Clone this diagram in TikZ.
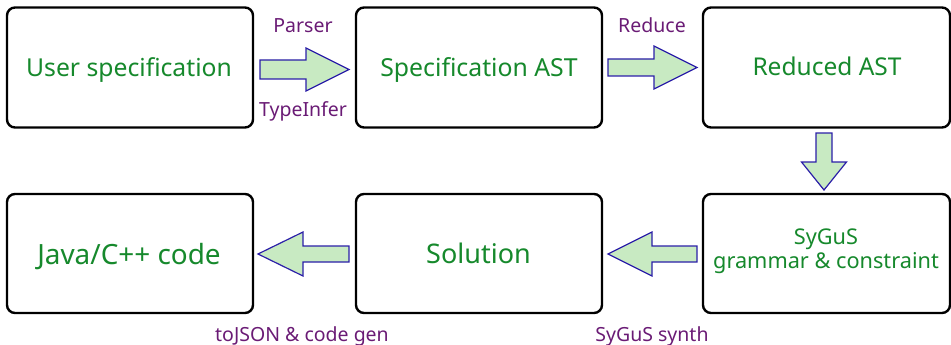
\documentclass[tikz,border=0pt]{standalone}
\usepackage{fontspec}
\setmainfont{Noto Sans}
\definecolor{boxtext}{HTML}{16892C}
\definecolor{labtext}{HTML}{6A1B75}
\definecolor{arrfill}{HTML}{C8EAC2}
\definecolor{arredge}{HTML}{2B1FA8}
\begin{document}
\begin{tikzpicture}[x=1pt,y=-1pt,
  stagebox/.style={draw=black,line width=2.4pt,rounded corners=8pt,fill=white,
    minimum width=246pt,minimum height=120pt,inner sep=0pt},
  boxlabel/.style={text=boxtext,inner sep=0pt,anchor=base},
  lab/.style={text=labtext,font=\fontsize{19.5}{22}\selectfont,inner sep=0pt,anchor=base},
  barrow/.style={draw=arredge,line width=1.2pt,fill=arrfill,line join=miter}]
\useasboundingbox (0,0) rectangle (951,345);
% boxes
\node[stagebox] (user) at (130,67.5) {};
\node[stagebox] (spec) at (479,67.5) {};
\node[stagebox,minimum width=247pt] (red) at (826.5,67.5) {};
\node[stagebox,minimum width=247pt,minimum height=119pt] (sygus) at (826.5,253.5) {};
\node[stagebox,minimum height=119pt] (sol) at (479,253.5) {};
\node[stagebox,minimum height=119pt] (java) at (130,253.5) {};
% box texts
\node[boxlabel,font=\fontsize{24.7}{28}\selectfont] (tuser) at (129,77) {User specification};
\node[boxlabel,font=\fontsize{24.8}{28}\selectfont] (tspec) at (479,77) {Specification AST};
\node[boxlabel,font=\fontsize{24.5}{28}\selectfont] (tred) at (827,76) {Reduced AST};
\node[boxlabel,font=\fontsize{21.7}{26}\selectfont] (tsy1) at (826,244) {SyGuS};
\node[boxlabel,font=\fontsize{21.7}{26}\selectfont] (tsy2) at (826,268) {grammar \& constraint};
\node[boxlabel,font=\fontsize{27}{30}\selectfont] (tsol) at (478.5,263) {Solution};
\node[boxlabel,font=\fontsize{27.9}{32}\selectfont] (tjava) at (129,264) {Java/C++ code};
% block arrows
\draw[barrow] (260,60) -- (306,60) -- (306,48) -- (349,69.5) -- (306,91) -- (306,79) -- (260,79) -- cycle;
\draw[barrow] (608,59) -- (654,59) -- (654,46) -- (697,67.5) -- (654,89) -- (654,76) -- (608,76) -- cycle;
\draw[barrow] (816,133) -- (832,133) -- (832,162) -- (846.5,162) -- (824,190) -- (801.5,162) -- (816,162) -- cycle;
\draw[barrow] (697,246) -- (652,246) -- (652,232) -- (608,254) -- (652,276) -- (652,262) -- (697,262) -- cycle;
\draw[barrow] (349,246) -- (303,246) -- (303,232) -- (258,254) -- (303,276) -- (303,262) -- (349,262) -- cycle;
% labels
\node[lab] (lparser) at (303,33) {Parser};
\node[lab] (ltype) at (303,117) {TypeInfer};
\node[lab] (lreduce) at (652,33) {Reduce};
\node[lab] (lsynth) at (652,341) {SyGuS synth};
\node[lab] (ljson) at (302,341) {toJSON \& code gen};
\end{tikzpicture}
\end{document}
